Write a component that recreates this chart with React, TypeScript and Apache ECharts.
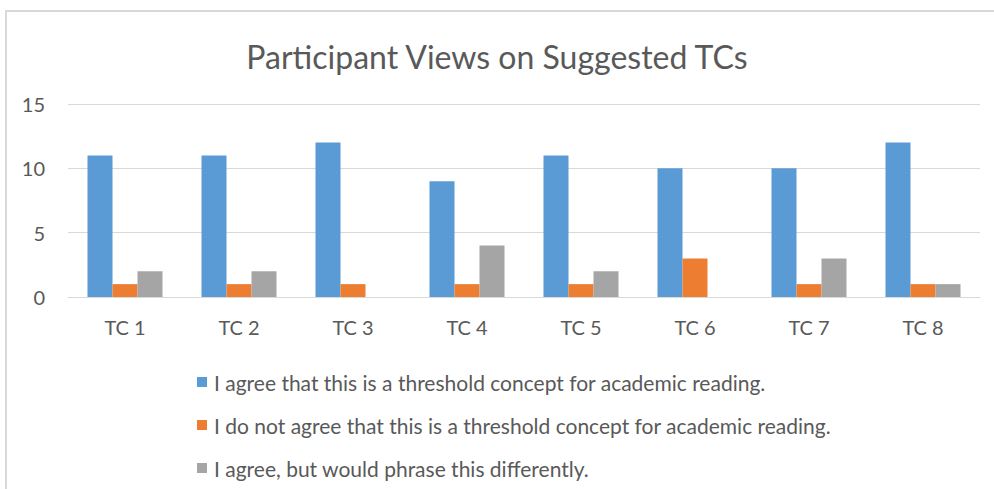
import React, { useEffect, useRef } from "react";
import * as echarts from "echarts";

const categories = ["TC 1", "TC 2", "TC 3", "TC 4", "TC 5", "TC 6", "TC 7", "TC 8"];
const agreeValues = [11, 11, 12, 9, 11, 10, 10, 12];
const disagreeValues = [1, 1, 1, 1, 1, 3, 1, 1];
const rephraseValues = [2, 2, 0, 4, 2, 0, 3, 1];
const seriesNames = [
  "I agree that this is a threshold concept for academic reading.",
  "I do not agree that this is a threshold concept for academic reading.",
  "I agree, but would phrase this differently.",
];
const colors = ["#5B9BD5", "#ED7D31", "#A5A5A5"];
const FONT = "Lato, 'Open Sans', sans-serif";
const TEXT = "#595959";

export default function App() {
  const ref = useRef<HTMLDivElement>(null);
  useEffect(() => {
    if (!ref.current) return;
    const chart = echarts.init(ref.current, undefined, { renderer: "svg" });
    const values = [agreeValues, disagreeValues, rephraseValues];
    chart.setOption({
      animation: false,
      backgroundColor: "#ffffff",
      title: {
        text: "Participant Views on Suggested TCs",
        left: "center",
        top: 35,
        textStyle: { fontFamily: FONT, fontSize: 32, fontWeight: "normal", color: TEXT },
      },
      graphic: [
        {
          type: "rect",
          shape: { x: 6, y: 11, width: 1000, height: 520 },
          style: { fill: "none", stroke: "#D9D9D9", lineWidth: 2 },
          silent: true,
        },
      ],
      legend: {
        orient: "vertical",
        left: 192,
        top: 366,
        itemWidth: 10,
        itemHeight: 10,
        itemGap: 21,
        icon: "rect",
        textStyle: { fontFamily: FONT, fontSize: 21, color: TEXT, lineHeight: 22, padding: [0, 0, 0, 2] },
        data: seriesNames,
      },
      grid: { left: 68, right: 14, top: 104, bottom: 192, containLabel: false },
      xAxis: {
        type: "category",
        data: categories,
        axisLine: { lineStyle: { color: "#D9D9D9", width: 1 } },
        axisTick: { show: false },
        axisLabel: { fontFamily: FONT, fontSize: 20, color: TEXT, margin: 20 },
      },
      yAxis: {
        type: "value",
        min: 0,
        max: 15,
        interval: 5,
        axisLine: { show: false },
        axisTick: { show: false },
        splitLine: { lineStyle: { color: "#D9D9D9", width: 1 } },
        axisLabel: { fontFamily: FONT, fontSize: 20, color: TEXT, margin: 23 },
      },
      series: seriesNames.map((name, i) => ({
        name,
        type: "bar",
        data: values[i],
        barWidth: 25,
        barGap: "0%",
        itemStyle: { color: colors[i] },
      })),
    });
    return () => chart.dispose();
  }, []);
  return (
    <div
      ref={ref}
      style={{ position: "fixed", left: 0, top: 0, width: 994, height: 489 }}
    />
  );
}
